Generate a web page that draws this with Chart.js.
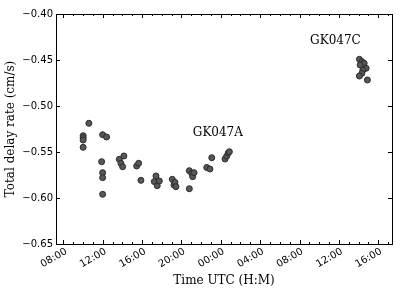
<!DOCTYPE html>
<html>
<head>
<meta charset="utf-8">
<script src="https://cdn.jsdelivr.net/npm/chart.js@4.4.0/dist/chart.umd.min.js"></script>
<style>
  html, body { margin: 0; padding: 0; background: #fff; }
  #wrap { width: 403px; height: 292px; }
</style>
</head>
<body>
<div id="wrap"><canvas id="chart" width="403" height="292"></canvas></div>
<script>
// time in hours since 00:00 of the first day, delay rate in cm/s
const sessionA_hours = [10.01, 10.01, 10.01, 10.01, 10.59, 11.89, 11.99, 11.99, 11.99, 11.99, 12.39,
    13.68, 13.85, 14.02, 14.15, 15.45, 15.65, 15.88, 17.24, 17.41, 17.54, 17.75,
    19.07, 19.24, 19.34, 19.44, 20.80, 20.80, 21.04, 21.14, 21.28, 22.57, 22.90, 23.08,
    24.43, 24.60, 24.76, 24.87];
const sessionA_rate = [-0.5323, -0.5345, -0.5370, -0.5449, -0.5188, -0.5605, -0.5312, -0.5725, -0.5779, -0.5960, -0.5337,
    -0.5580, -0.5623, -0.5660, -0.5543, -0.5652, -0.5623, -0.5808, -0.5822, -0.5760, -0.5866, -0.5815,
    -0.5797, -0.5859, -0.5830, -0.5877, -0.5703, -0.5899, -0.5732, -0.5768, -0.5725, -0.5668, -0.5685, -0.5562,
    -0.5576, -0.5545, -0.5510, -0.5497];
const sessionC_hours = [38.09, 38.34, 38.57, 38.16, 38.77, 38.44, 38.34, 38.09, 38.90];
const sessionC_rate = [-0.4493, -0.4518, -0.4536, -0.4554, -0.4590, -0.4609, -0.4645, -0.4674, -0.4717];

const xTickHours = [8, 12, 16, 20, 24, 28, 32, 36, 40];
const xTickLabels = ['08:00', '12:00', '16:00', '20:00', '00:00', '04:00', '08:00', '12:00', '16:00'];
const yTicks = [-0.65, -0.60, -0.55, -0.50, -0.45, -0.40];
const yTickLabels = ['\u22120.65', '\u22120.60', '\u22120.55', '\u22120.50', '\u22120.45', '\u22120.40'];
const labels = [
    { text: 'GK047A', x: 23.7, y: -0.5293 },
    { text: 'GK047C', x: 35.65, y: -0.4288 }
];

const serif = '"DejaVu Serif", serif';
const sans = '"DejaVu Sans", sans-serif';

function toPoints(xs, ys) {
    return xs.map((x, i) => ({ x: x, y: ys[i] }));
}

// matplotlib style frame with inward ticks on all four sides, tick labels and text labels
const framePlugin = {
    id: 'frame',
    afterDraw(chart) {
        const ctx = chart.ctx;
        const a = chart.chartArea;
        const xs = chart.scales.x;
        const ys = chart.scales.y;
        ctx.save();
        ctx.strokeStyle = '#000';
        ctx.lineWidth = 1;
        ctx.beginPath();
        // minor ticks every hour, major every 4 hours
        for (let h = Math.ceil(xs.min); h <= xs.max; h++) {
            const px = Math.round(xs.getPixelForValue(h)) + 0.5;
            const len = h % 4 === 0 ? 4 : 2;
            ctx.moveTo(px, a.bottom); ctx.lineTo(px, a.bottom - len);
            ctx.moveTo(px, a.top); ctx.lineTo(px, a.top + len);
        }
        yTicks.forEach(v => {
            const py = Math.round(ys.getPixelForValue(v)) + 0.5;
            ctx.moveTo(a.left, py); ctx.lineTo(a.left + 4, py);
            ctx.moveTo(a.right, py); ctx.lineTo(a.right - 4, py);
        });
        ctx.stroke();
        ctx.strokeRect(Math.round(a.left) + 0.5, Math.round(a.top) + 0.5,
            Math.round(a.right - a.left), Math.round(a.bottom - a.top));

        ctx.fillStyle = '#000';
        ctx.font = '10px ' + sans;

        // y tick labels
        ctx.textAlign = 'right';
        ctx.textBaseline = 'middle';
        yTicks.forEach((v, i) => {
            ctx.fillText(yTickLabels[i], a.left - 3, ys.getPixelForValue(v));
        });

        // x tick labels, rotated 30 degrees, top-right corner at the tick
        ctx.textAlign = 'right';
        ctx.textBaseline = 'top';
        xTickHours.forEach((h, i) => {
            ctx.save();
            ctx.translate(xs.getPixelForValue(h) + 0.5, a.bottom + 2.5);
            ctx.rotate(-Math.PI / 6);
            ctx.fillText(xTickLabels[i], 0, 0);
            ctx.restore();
        });

        ctx.font = '12px ' + serif;
        ctx.textAlign = 'center';
        ctx.textBaseline = 'middle';
        labels.forEach(l => {
            ctx.fillText(l.text, xs.getPixelForValue(l.x), ys.getPixelForValue(l.y));
        });
        ctx.restore();
    }
};

const pointStyle = {
    backgroundColor: '#575757',
    borderColor: '#2b2b2b',
    borderWidth: 1,
    pointRadius: 3,
    pointHoverRadius: 3,
    showLine: false
};

new Chart(document.getElementById('chart').getContext('2d'), {
    type: 'scatter',
    data: {
        datasets: [
            Object.assign({ label: 'GK047A', data: toPoints(sessionA_hours, sessionA_rate) }, pointStyle),
            Object.assign({ label: 'GK047C', data: toPoints(sessionC_hours, sessionC_rate) }, pointStyle)
        ]
    },
    options: {
        responsive: false,
        animation: false,
        layout: { padding: { top: 14, right: 11, left: 0, bottom: 0 } },
        plugins: {
            legend: { display: false },
            tooltip: { enabled: false }
        },
        scales: {
            x: {
                type: 'linear',
                min: 7.25,
                max: 41.4,
                grid: { display: false, drawTicks: false },
                border: { display: false },
                ticks: { display: false },
                afterFit: scale => { scale.height = 48; },
                title: {
                    display: true,
                    text: 'Time UTC (H:M)',
                    color: '#000',
                    font: { family: serif, size: 12 },
                    padding: { top: 2, bottom: 4 }
                }
            },
            y: {
                min: -0.65,
                max: -0.40,
                grid: { display: false, drawTicks: false },
                border: { display: false },
                ticks: { display: false },
                afterFit: scale => { scale.width = 56; },
                title: {
                    display: true,
                    text: 'Total delay rate (cm/s)',
                    color: '#000',
                    font: { family: serif, size: 12 },
                    padding: { top: 4, bottom: 2 }
                }
            }
        }
    },
    plugins: [framePlugin]
});
</script>
</body>
</html>
